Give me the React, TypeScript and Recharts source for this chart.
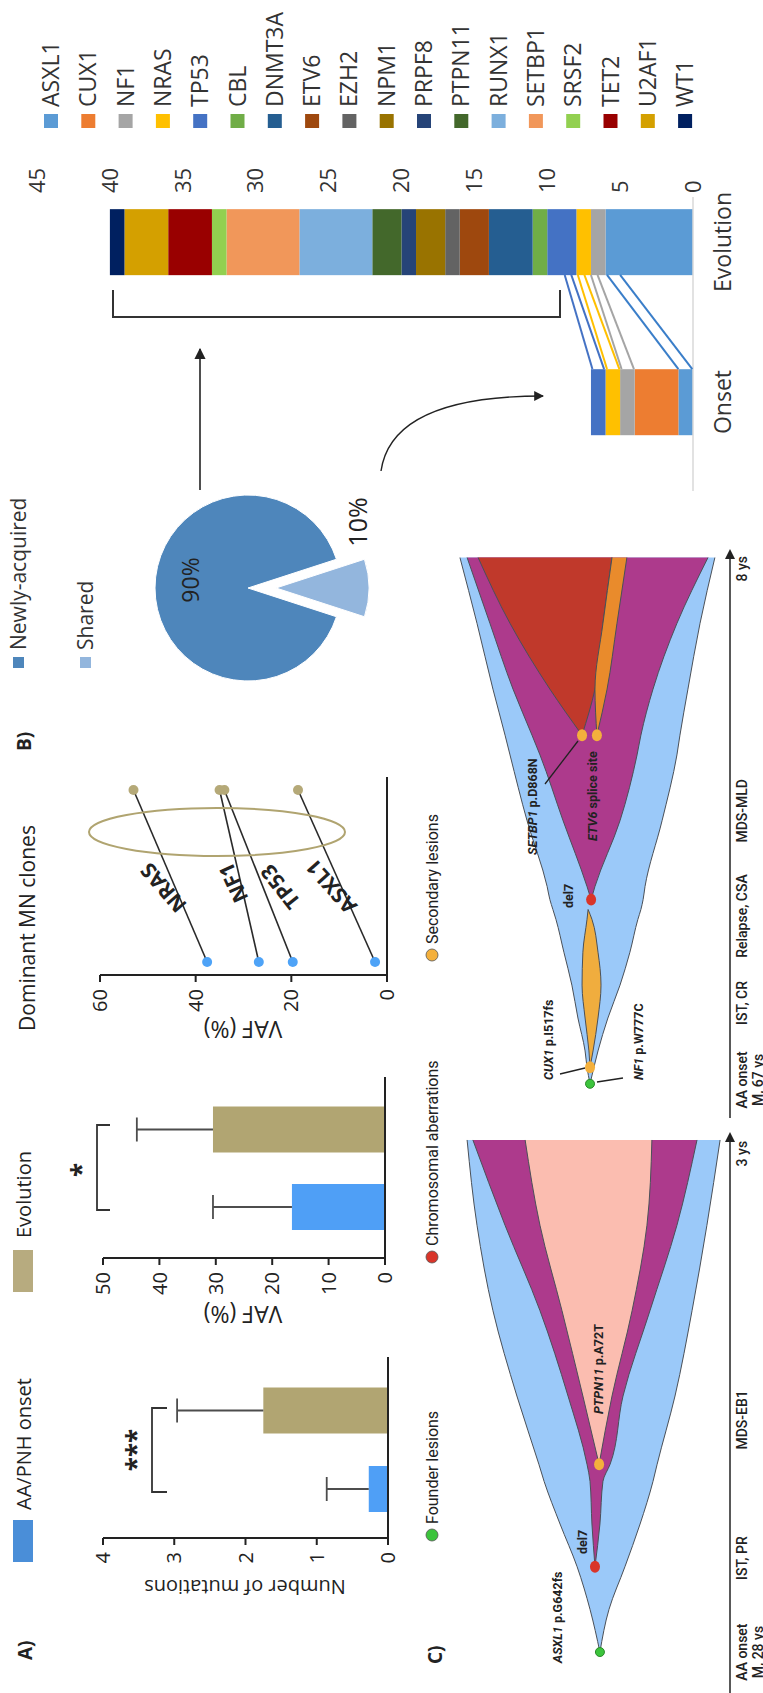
import {
  BarChart,
  Bar,
  XAxis,
  YAxis,
  ReferenceLine,
  LineChart,
  Line,
  PieChart,
  Pie,
  Cell,
  ComposedChart,
  Scatter,
  Area,
} from 'recharts'

// the figure is laid out landscape and turned a quarter to fit the page
const W = 1693
const H = 763
const SANS = "'Open Sans', 'Noto Sans', sans-serif"
const COND = "Roboto, 'Noto Sans', sans-serif"
const INK = '#222'

// ---------- A) mutation burden / VAF ----------
const groupNames = ['AA/PNH onset', 'Evolution']
const groupColors = ['#4f9ff6', '#b1a572']
const mutationMean = [0.27, 1.75]
const mutationErr = [0.59, 1.21]
const mutationTicks = [0, 1, 2, 3, 4]
const vafMean = [16.5, 30.5]
const vafErr = [14, 13.5]
const vafTicks = [0, 10, 20, 30, 40, 50]

// dominant MN clones: VAF at onset -> evolution
const mnStages = ['Onset', 'Evolution']
const mnGenes = ['NRAS', 'NF1', 'TP53', 'ASXL1']
const mnOnset = [37.6, 26.8, 19.7, 2.5]
const mnEvolution = [53, 35, 34, 18.6]
const mnTicks = [0, 20, 40, 60]

// ---------- B) ----------
const pieNames = ['Newly-acquired', 'Shared']
const pieValues = [90, 10]
const pieColors = ['#4e86bb', '#93b6dd']

const genes = ['ASXL1', 'CUX1', 'NF1', 'NRAS', 'TP53', 'CBL', 'DNMT3A', 'ETV6', 'EZH2', 'NPM1', 'PRPF8', 'PTPN11', 'RUNX1', 'SETBP1', 'SRSF2', 'TET2', 'U2AF1', 'WT1']
const geneColors = ['#5b9bd5', '#ed7d31', '#a5a5a5', '#ffc000', '#4472c4', '#70ad47', '#255e91', '#9e480e', '#636363', '#997300', '#264478', '#43682b', '#7cafdd', '#f1975a', '#92d050', '#990000', '#d4a000', '#002060']
const onsetCounts = [1, 3, 1, 1, 1, 0, 0, 0, 0, 0, 0, 0, 0, 0, 0, 0, 0, 0]
const evolutionCounts = [6, 0, 1, 1, 2, 1, 3, 2, 1, 2, 1, 2, 5, 5, 1, 3, 3, 1]
const stackStages = ['Onset', 'Evolution']
const stackTicks = [0, 5, 10, 15, 20, 25, 30, 35, 40, 45]

// shared mutations: slice of the onset bar -> slice of the evolution bar
const sharedColors = ['#4472c4', '#ffc000', '#a5a5a5', '#3a7ec9']
const sharedAtOnset = [[6.1, 6.9], [5.05, 5.9], [4.05, 4.9], [0.05, 1.0]]
const sharedAtEvolution = [[8.35, 8.8], [7.45, 7.9], [6.55, 7.0], [5.0, 5.9]]
const BAR_HALF = 0.206 // half bar width in x units
const BAR_PX = 66

// ---------- C) fish plots (clone size, arbitrary 0-100 scale) ----------
type Range = [number, number] | null
const fishATimes = [0, 0.25, 0.5, 0.75, 1.0, 1.1, 1.5, 2.0, 2.5, 3.0]
const fishAFounder: Range[] = [[47.3, 47.3], [44.0, 50.9], [38.2, 55.6], [32.7, 61.8], [28.0, 67.6], [26.5, 69.5], [20.0, 77.5], [13.8, 86.2], [8.4, 92.0], [3.6, 95.6]]
const fishADel7: Range[] = [null, null, [49.1, 49.1], [47.3, 50.2], [46.2, 50.9], [43.6, 52.0], [38.9, 58.9], [29.1, 69.1], [19.3, 81.8], [12.0, 93.5]]
const fishAPtpn11: Range[] = [null, null, null, null, null, [47.6, 47.6], [42.9, 53.5], [35.6, 61.1], [30.2, 69.1], [28.4, 74.5]]
const fishATicks = [0, 0.55, 1.36, 2.92]
const fishALabels = ['AA onset\nM, 28 ys', 'IST, PR', 'MDS-EB1', '3 ys']
const fishAMarks = [
  { t: 0, v: 47.3, kind: 'founder' },
  { t: 0.5, v: 49.1, kind: 'chromosomal' },
  { t: 1.1, v: 47.6, kind: 'secondary' },
]

const fishBTimes = [0, 0.25, 0.5, 1, 1.5, 2, 2.5, 2.65, 2.8, 3, 4, 5, 5.3, 6, 7, 8]
const fishBFounder: Range[] = [[50.9, 50.9], [49.5, 52.0], [48.0, 52.7], [44.4, 55.3], [40.0, 57.5], [36.4, 60.4], [33.5, 63.3], [32.4, 64.4], [31.6, 65.5], [30.9, 66.5], [24.7, 73.8], [19.3, 80.0], [18.2, 81.8], [15.3, 86.2], [10.9, 92.0], [5.5, 98.2]]
const fishBCux1: Range[] = [null, [50.9, 50.9], [49.8, 51.3], [48.0, 52.7], [46.9, 53.8], [48.0, 53.5], [50.2, 52.0], [51.6, 51.6], null, null, null, null, null, null, null, null]
const fishBDel7: Range[] = [null, null, null, null, null, null, null, null, [50.5, 50.5], [49.1, 52.0], [40.0, 60.7], [33.8, 69.1], [32.4, 72.0], [28.0, 78.9], [19.3, 87.3], [8.0, 95.6]]
const fishBSetbp1: Range[] = [null, null, null, null, null, null, null, null, null, null, null, null, [53.8, 53.8], [49.1, 65.5], [46.2, 80.0], [42.9, 91.6]]
const fishBEtv6: Range[] = [null, null, null, null, null, null, null, null, null, null, null, null, [48.4, 48.4], [44.7, 49.1], [41.1, 46.2], [37.5, 42.9]]
const fishBTicks = [0.06, 1.23, 2.55, 4.15, 7.83]
const fishBLabels = ['AA onset\nM, 67 ys', 'IST, CR', 'Relapse, CSA', 'MDS-MLD', '8 ys']
const fishBMarks = [
  { t: 0, v: 50.9, kind: 'founder' },
  { t: 0.25, v: 50.9, kind: 'secondary' },
  { t: 2.8, v: 50.5, kind: 'chromosomal' },
  { t: 5.3, v: 53.8, kind: 'secondary' },
  { t: 5.3, v: 48.4, kind: 'secondary' },
]

const lesionNames = ['Founder lesions', 'Chromosomal aberrations', 'Secondary lesions']
const lesionColors: Record<string, string> = { founder: '#3cc43c', chromosomal: '#d9352a', secondary: '#f4b03c' }
const lesionKeys = ['founder', 'chromosomal', 'secondary']

const cloneColors = {
  founder: '#9bc9f9',
  del7: '#ad3a8c',
  pink: '#fbbdb0',
  red: '#c0392b',
  orange: '#e98b2c',
  cux: '#f0ad3e',
}

function ErrorCap(props: any) {
  const { x, y, width, height } = props
  if (height == null || isNaN(y)) return <g />
  const cx = x + width / 2
  return (
    <g stroke="#4d4d4d" strokeWidth={1.8}>
      <line x1={cx} x2={cx} y1={y + height} y2={y} />
      <line x1={cx - 12} x2={cx + 12} y1={y} y2={y} />
    </g>
  )
}

function MeanBars({ means, errs, ticks, left, top, bottom, pad }: { means: number[]; errs: number[]; ticks: number[]; left: number; top: number; bottom: number; pad: { left: number; right: number } }) {
  const rows = groupNames.map((g, i) => ({ group: g, mean: means[i], err: errs[i] }))
  return (
    <div style={{ position: 'absolute', left, top }}>
      <BarChart width={250} height={310} data={rows} barSize={46} margin={{ top: 13, right: 14, bottom, left: 0 }}>
        <XAxis dataKey="group" hide padding={pad} />
        <YAxis
          width={55}
          domain={[0, ticks[ticks.length - 1]]}
          ticks={ticks}
          interval={0}
          tickSize={7}
          tickMargin={7}
          axisLine={{ stroke: INK, strokeWidth: 2 }}
          tickLine={{ stroke: INK, strokeWidth: 2 }}
          tick={{ fill: INK, fontSize: 20, fontFamily: SANS }}
        />
        <Bar dataKey="mean" stackId="a" isAnimationActive={false}>
          {rows.map((_, i) => (
            <Cell key={i} fill={groupColors[i]} />
          ))}
        </Bar>
        <Bar dataKey="err" stackId="a" isAnimationActive={false} shape={ErrorCap} />
        <ReferenceLine y={0} stroke={INK} strokeWidth={2} />
      </BarChart>
    </div>
  )
}

function MnDot(p: any) {
  return <circle key={`${p.dataKey}-${p.index}`} cx={p.cx} cy={p.cy} r={5} fill={p.index === 0 ? '#4ea3f7' : '#b5a978'} />
}

function DominantClones() {
  const rows = mnStages.map((s, i) => {
    const r: any = { stage: s }
    mnGenes.forEach((g, j) => (r[g] = i === 0 ? mnOnset[j] : mnEvolution[j]))
    return r
  })
  return (
    <div style={{ position: 'absolute', left: 663, top: 87 }}>
      <LineChart width={270} height={310} data={rows} margin={{ top: 13, right: 17, bottom: 10, left: 0 }}>
        <XAxis dataKey="stage" hide padding={{ left: 13, right: 13 }} />
        <YAxis
          width={55}
          domain={[0, 60]}
          ticks={mnTicks}
          interval={0}
          tickSize={7}
          tickMargin={7}
          axisLine={{ stroke: INK, strokeWidth: 2 }}
          tickLine={{ stroke: INK, strokeWidth: 2 }}
          tick={{ fill: INK, fontSize: 20, fontFamily: SANS }}
        />
        <ReferenceLine y={0} stroke={INK} strokeWidth={2} />
        {mnGenes.map((g) => (
          <Line key={g} dataKey={g} type="linear" stroke="#2a2a2a" strokeWidth={1.6} dot={MnDot} activeDot={false} isAnimationActive={false} />
        ))}
      </LineChart>
    </div>
  )
}

function SharedPie() {
  const data = pieNames.map((n, i) => ({ name: n, value: pieValues[i] }))
  return (
    <div style={{ position: 'absolute', left: 1005, top: 148 }}>
      <PieChart width={200} height={240} margin={{ top: 0, right: 0, bottom: 0, left: 0 }}>
        <Pie data={data} dataKey="value" cx={100} cy={100} outerRadius={93} startAngle={-72} endAngle={288} stroke="#fff" isAnimationActive={false}>
          <Cell fill={pieColors[0]} />
          <Cell fill="none" stroke="none" />
        </Pie>
        <Pie data={data} dataKey="value" cx={100} cy={128} outerRadius={93} startAngle={-72} endAngle={288} stroke="#fff" isAnimationActive={false}>
          <Cell fill="none" stroke="none" />
          <Cell fill={pieColors[1]} />
        </Pie>
      </PieChart>
    </div>
  )
}

function WideBar(p: any) {
  if (!p.height || isNaN(p.y)) return <g />
  return <rect x={p.x + p.width / 2 - BAR_PX / 2} y={p.y} width={BAR_PX} height={p.height} fill={p.fill} />
}

function StackedGenes() {
  const rows = stackStages.map((s, i) => {
    const r: any = { pos: i + 1, stage: s }
    genes.forEach((g, j) => (r[g] = i === 0 ? onsetCounts[j] : evolutionCounts[j]))
    return r
  })
  const links: { color: string; data: { pos: number; v: number }[] }[] = []
  sharedAtOnset.forEach((o, k) => {
    ;[0, 1].forEach((e) => {
      links.push({
        color: sharedColors[k],
        data: [
          { pos: 1 + BAR_HALF, v: o[e] },
          { pos: 2 - BAR_HALF, v: sharedAtEvolution[k][e] },
        ],
      })
    })
  })
  return (
    <div style={{ position: 'absolute', left: 1202, top: 12 }}>
      <ComposedChart width={344} height={741} data={rows} margin={{ top: 25, right: 0, bottom: 0, left: 0 }}>
        <XAxis
          dataKey="pos"
          type="number"
          domain={[0.444, 2.281]}
          allowDataOverflow
          ticks={[1, 2]}
          interval={0}
          tickFormatter={(v: number) => stackStages[v - 1]}
          height={60}
          tickSize={0}
          tickMargin={22}
          tickLine={false}
          axisLine={{ stroke: '#d9d9d9', strokeWidth: 1.5 }}
          tick={{ fill: '#333', fontSize: 23, fontFamily: SANS }}
        />
        <YAxis
          orientation="right"
          width={50}
          domain={[0, 45]}
          ticks={stackTicks}
          interval={0}
          axisLine={false}
          tickLine={false}
          tickSize={0}
          tickMargin={4}
          tick={{ fill: '#333', fontSize: 22, fontFamily: SANS }}
        />
        {genes.map((g, i) => (
          <Bar key={g} dataKey={g} stackId="s" fill={geneColors[i]} shape={WideBar} isAnimationActive={false} />
        ))}
        {links.map((l, i) => (
          <Scatter key={i} data={l.data} dataKey="v" line={{ stroke: l.color, strokeWidth: 2 }} lineType="joint" shape={() => <g />} isAnimationActive={false} />
        ))}
      </ComposedChart>
    </div>
  )
}

function FishDot(p: any) {
  const kind = p.payload.kind
  const rx = kind === 'founder' ? 4.5 : 6
  const ry = kind === 'founder' ? 4.5 : 5
  return <ellipse cx={p.cx} cy={p.cy} rx={rx} ry={ry} fill={lesionColors[kind]} stroke={kind === 'founder' ? '#2b8a2b' : 'none'} strokeWidth={1} />
}

function fishTick(labels: string[]) {
  return (props: any) => {
    const { x, y, index } = props
    const lines = labels[index].split('\n')
    return (
      <text x={x} y={y} textAnchor="middle" fontFamily={COND} fontSize={14} fontWeight={500} fill={INK}>
        {lines.map((l, i) => (
          <tspan key={i} x={x} dy={i === 0 ? '0.9em' : '1.15em'}>
            {l}
          </tspan>
        ))}
      </text>
    )
  }
}

const outline = { stroke: '#4a5058', strokeWidth: 1 }

function FishA() {
  const rows = fishATimes.map((t, i) => ({ t, founder: fishAFounder[i], del7: fishADel7[i], ptpn11: fishAPtpn11[i] }))
  return (
    <div style={{ position: 'absolute', left: 0, top: 445 }}>
      <ComposedChart width={559} height={318} data={rows} margin={{ top: 10, right: 0, bottom: 0, left: 0 }}>
        <XAxis dataKey="t" type="number" domain={[-0.24, 3.035]} allowDataOverflow ticks={fishATicks} interval={0} height={33} tickSize={0} tickMargin={4} tickLine={false} axisLine={{ stroke: INK, strokeWidth: 1.5 }} tick={fishTick(fishALabels)} />
        <YAxis hide domain={[0, 100]} allowDataOverflow />
        <Area dataKey="founder" type="monotone" fill={cloneColors.founder} fillOpacity={1} {...outline} dot={false} activeDot={false} isAnimationActive={false} />
        <Area dataKey="del7" type="monotone" fill={cloneColors.del7} fillOpacity={1} {...outline} dot={false} activeDot={false} isAnimationActive={false} />
        <Area dataKey="ptpn11" type="monotone" fill={cloneColors.pink} fillOpacity={1} {...outline} dot={false} activeDot={false} isAnimationActive={false} />
        <Scatter data={fishAMarks} dataKey="v" shape={FishDot} isAnimationActive={false} />
      </ComposedChart>
    </div>
  )
}

function FishB() {
  const rows = fishBTimes.map((t, i) => ({ t, founder: fishBFounder[i], cux1: fishBCux1[i], del7: fishBDel7[i], setbp1: fishBSetbp1[i], etv6: fishBEtv6[i] }))
  return (
    <div style={{ position: 'absolute', left: 575, top: 445 }}>
      <ComposedChart width={567} height={318} data={rows} margin={{ top: 10, right: 0, bottom: 0, left: 0 }}>
        <XAxis dataKey="t" type="number" domain={[-0.52, 8.1]} allowDataOverflow ticks={fishBTicks} interval={0} height={33} tickSize={0} tickMargin={4} tickLine={false} axisLine={{ stroke: INK, strokeWidth: 1.5 }} tick={fishTick(fishBLabels)} />
        <YAxis hide domain={[0, 100]} allowDataOverflow />
        <Area dataKey="founder" type="monotone" fill={cloneColors.founder} fillOpacity={1} {...outline} dot={false} activeDot={false} isAnimationActive={false} />
        <Area dataKey="cux1" type="monotone" fill={cloneColors.cux} fillOpacity={1} {...outline} dot={false} activeDot={false} isAnimationActive={false} />
        <Area dataKey="del7" type="monotone" fill={cloneColors.del7} fillOpacity={1} {...outline} dot={false} activeDot={false} isAnimationActive={false} />
        <Area dataKey="setbp1" type="monotone" fill={cloneColors.red} fillOpacity={1} {...outline} dot={false} activeDot={false} isAnimationActive={false} />
        <Area dataKey="etv6" type="monotone" fill={cloneColors.orange} fillOpacity={1} {...outline} dot={false} activeDot={false} isAnimationActive={false} />
        <Scatter data={fishBMarks} dataKey="v" shape={FishDot} isAnimationActive={false} />
      </ComposedChart>
    </div>
  )
}

function Rot({ x, y, a, children, size = 22, weight = 400, anchor = 'middle' }: any) {
  return (
    <text transform={`translate(${x},${y}) rotate(${a})`} textAnchor={anchor} dominantBaseline="central" fontSize={size} fontWeight={weight} fontFamily={SANS} fill={INK}>
      {children}
    </text>
  )
}

function Overlay() {
  const mnLabels = [
    { x: 805, y: 163, a: -40.7 },
    { x: 810, y: 233, a: -24.4 },
    { x: 806, y: 280, a: -38.3 },
    { x: 806, y: 331, a: -41.8 },
  ]
  const lesionX = [158, 436, 738]
  return (
    <svg width={W} height={H} style={{ position: 'absolute', left: 0, top: 0, pointerEvents: 'none' }}>
      <defs>
        <marker id="ah" viewBox="0 0 10 10" refX="9" refY="5" markerWidth="7" markerHeight="7" orient="auto">
          <path d="M0,0 L10,5 L0,10 z" fill={INK} />
        </marker>
      </defs>

      {/* panel letters */}
      <g fontFamily={SANS} fontWeight={700} fontSize={19} fill={INK}>
        <text x={33} y={32}>A)</text>
        <text x={942} y={31}>B)</text>
        <text x={29} y={442}>C)</text>
      </g>

      {/* A legend */}
      <rect x={131} y={13} width={42} height={20} fill="#4a8ed8" />
      <text x={183} y={31} fontFamily={SANS} fontSize={20} fill={INK}>{groupNames[0]}</text>
      <rect x={401} y={13} width={42} height={20} fill="#b7ab7f" />
      <text x={455} y={31} fontFamily={SANS} fontSize={20} fill={INK}>{groupNames[1]}</text>

      {/* axis titles */}
      <Rot x={106} y={245} a={-90} size={20}>Number of mutations</Rot>
      <Rot x={378} y={243} a={-90} size={23}>VAF (%)</Rot>
      <Rot x={663} y={243} a={-90} size={23}>VAF (%)</Rot>
      <text x={765} y={35} textAnchor="middle" fontFamily={SANS} fontSize={21} fill={INK}>Dominant MN clones</text>

      {/* significance */}
      <path d="M201,167 L201,152 L285,152 L285,167" fill="none" stroke="#333" strokeWidth={1.8} />
      <text x={243} y={146} textAnchor="middle" fontFamily={SANS} fontWeight={700} fontSize={26} fill={INK}>***</text>
      <path d="M483,110 L483,97 L568,97 L568,110" fill="none" stroke="#333" strokeWidth={1.8} />
      <text x={523} y={91} textAnchor="middle" fontFamily={SANS} fontWeight={700} fontSize={26} fill={INK}>*</text>

      {/* dominant clones */}
      <ellipse cx={861} cy={217} rx={24} ry={128} fill="none" stroke="#b0a470" strokeWidth={2} />
      {mnGenes.map((g, i) => (
        <Rot key={g} x={mnLabels[i].x} y={mnLabels[i].y} a={mnLabels[i].a} size={21} weight={700}>
          {g}
        </Rot>
      ))}

      {/* B legend + pie labels */}
      <rect x={1025} y={13} width={11} height={11} fill={pieColors[0]} />
      <text x={1043} y={26} fontFamily={SANS} fontSize={21} fill="#333">{pieNames[0]}</text>
      <rect x={1025} y={80} width={11} height={11} fill={pieColors[1]} />
      <text x={1043} y={93} fontFamily={SANS} fontSize={21} fill="#333">{pieNames[1]}</text>
      <text x={1113} y={190} textAnchor="middle" dominantBaseline="central" fontFamily={SANS} fontSize={23} fill={INK}>90%</text>
      <text x={1171} y={357} textAnchor="middle" dominantBaseline="central" fontFamily={SANS} fontSize={25} fill={INK}>10%</text>

      {/* arrows and bracket */}
      <line x1={1203} y1={200} x2={1344} y2={200} stroke={INK} strokeWidth={1.6} markerEnd="url(#ah)" />
      <path d="M1222,381 Q1297,392 1297,543" fill="none" stroke={INK} strokeWidth={1.4} markerEnd="url(#ah)" />
      <path d="M1403,113 L1376,113 L1376,560 L1403,560" fill="none" stroke="#333" strokeWidth={2} />

      {/* gene legend */}
      {genes.map((g, i) => {
        const cy = 51 + i * 37.3
        return (
          <g key={g}>
            <rect x={1565} y={cy - 7} width={14} height={14} fill={geneColors[i]} />
            <text x={1586} y={cy + 8} fontFamily={SANS} fontSize={23} fill="#333">{g}</text>
          </g>
        )
      })}

      {/* C legend */}
      {lesionNames.map((n, i) => (
        <g key={n}>
          <circle cx={lesionX[i]} cy={432} r={6} fill={lesionColors[lesionKeys[i]]} stroke="#555" strokeWidth={0.8} />
          <text x={lesionX[i] + 11} y={438} fontFamily={COND} fontSize={16} fill={INK}>{n}</text>
        </g>
      ))}

      {/* fish annotations */}
      <g fontFamily={COND} fontSize={12.5} fontWeight={700} fill={INK}>
        <text x={30} y={562}><tspan fontStyle="italic">ASXL1</tspan> p.G642fs</text>
        <text x={139} y={587}>del7</text>
        <text x={279} y={603}><tspan fontStyle="italic">PTPN11</tspan> p.A72T</text>
        <text x={613} y={553}><tspan fontStyle="italic">CUX1</tspan> p.I517fs</text>
        <text x={613} y={643}><tspan fontStyle="italic">NF1</tspan> p.W777C</text>
        <text x={785} y={573}>del7</text>
        <text x={838} y={537}><tspan fontStyle="italic">SETBP1</tspan> p.D868N</text>
        <text x={852} y={597}><tspan fontStyle="italic">ETV6</tspan> splice site</text>
      </g>
      <g stroke={INK} strokeWidth={1.3}>
        <line x1={619} y1={560} x2={625} y2={585} />
        <line x1={611} y1={597} x2={615} y2={623} />
        <line x1={909} y1={545} x2={952} y2={578} />
      </g>

      {/* time arrows */}
      <path d="M551,725 L561,730 L551,735 z" fill={INK} />
      <path d="M1134,725 L1144,730 L1134,735 z" fill={INK} />
    </svg>
  )
}

export default function App() {
  return (
    <div
      style={{
        position: 'absolute',
        left: 0,
        top: 0,
        width: W,
        height: H,
        background: '#fff',
        overflow: 'hidden',
        transformOrigin: '0 0',
        transform: `translateY(${W}px) rotate(-90deg)`,
        fontFamily: SANS,
      }}
    >
      <MeanBars means={mutationMean} errs={mutationErr} ticks={mutationTicks} left={100} top={90} bottom={12} pad={{ left: 10, right: 14 }} />
      <MeanBars means={vafMean} errs={vafErr} ticks={vafTicks} left={380} top={90} bottom={15} pad={{ left: 12, right: 14 }} />
      <DominantClones />
      <SharedPie />
      <StackedGenes />
      <FishA />
      <FishB />
      <Overlay />
    </div>
  )
}
